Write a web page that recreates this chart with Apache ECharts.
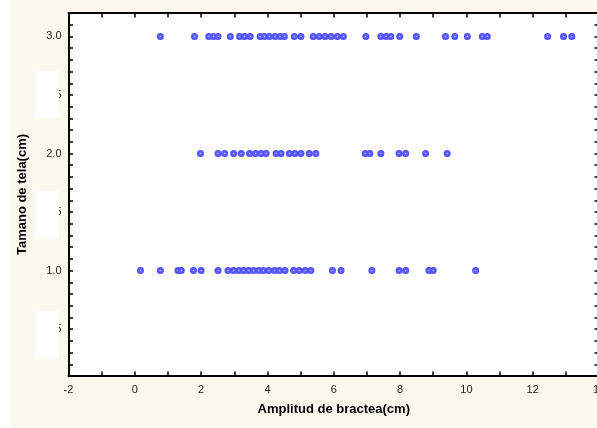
<!DOCTYPE html>
<html><head><meta charset="utf-8">
<script src="https://cdn.jsdelivr.net/npm/echarts@6/dist/echarts.min.js"></script>
<style>html,body{margin:0;padding:0;background:#fff}#c{width:597px;height:428px}</style>
</head><body><div id="c"></div>
<script>
const xTela3 = [0.77,1.80,2.23,2.37,2.51,2.88,3.16,3.31,3.48,3.78,3.91,4.06,4.23,4.38,4.51,4.81,5.01,5.38,5.56,5.74,5.92,6.11,6.29,6.97,7.42,7.58,7.72,7.99,8.49,9.37,9.65,10.03,10.48,10.63,12.45,12.93,13.18];
const xTela2 = [1.98,2.51,2.71,2.98,3.21,3.46,3.64,3.81,3.96,4.26,4.41,4.66,4.83,5.01,5.26,5.46,6.95,7.09,7.42,7.97,8.17,8.77,9.42];
const xTela1 = [0.17,0.77,1.30,1.40,1.77,2.00,2.51,2.81,2.98,3.14,3.28,3.43,3.58,3.74,3.88,4.04,4.21,4.36,4.53,4.79,4.96,5.14,5.31,5.96,6.22,7.15,7.97,8.17,8.87,9.00,10.28];
const telaLevels = [1.0, 2.0, 3.0];
const xName = 'Amplitud de bractea(cm)';
const yName = 'Tamano de tela(cm)';

const pts = [];
[xTela1, xTela2, xTela3].forEach((arr, i) => arr.forEach(v => pts.push([v, telaLevels[i]])));

const chart = echarts.init(document.getElementById('c'), null, {renderer: 'canvas'});
const font = 'Arial, "Liberation Sans", sans-serif';
const axisCommon = {
  axisLine: {show: true, onZero: false, lineStyle: {color: '#000', width: 2}},
  axisTick: {show: true, inside: true, length: 4.5, lineStyle: {color: '#000', width: 1.5}},
  splitLine: {show: false}
};
chart.setOption({
  backgroundColor: '#fff',
  animation: false,
  graphic: [
    {type: 'rect', z: -10, shape: {x: 11, y: 0, width: 586, height: 428}, style: {fill: '#fdf8ed'}},
    {type: 'rect', z: 100, shape: {x: 35, y: 71, width: 24, height: 47}, style: {fill: '#fff'}},
    {type: 'rect', z: 100, shape: {x: 35, y: 191, width: 24, height: 48}, style: {fill: '#fff'}},
    {type: 'rect', z: 100, shape: {x: 35, y: 311, width: 24, height: 48}, style: {fill: '#fff'}}
  ],
  grid: {left: 68.5, top: 13, right: -2, bottom: 52, show: true, backgroundColor: '#fff', borderWidth: 0,
    containLabel: false, outerBoundsMode: 'none'},
  xAxis: [
    Object.assign({}, axisCommon, {
      type: 'value', min: -2, max: 14, interval: 1, position: 'bottom',
      name: xName, nameLocation: 'middle', nameGap: 27,
      nameTextStyle: {fontFamily: font, fontSize: 13, fontWeight: 'bold', color: '#000'},
      axisLabel: {fontFamily: font, fontSize: 11, color: '#222', margin: 8,
        formatter: v => (Math.round(v) % 2 === 0 ? String(Math.round(v)) : '')}
    }),
    Object.assign({}, axisCommon, {
      type: 'value', min: -2, max: 14, interval: 1, position: 'top',
      axisLabel: {show: false}
    })
  ],
  yAxis: [
    Object.assign({}, axisCommon, {
      type: 'value', min: 0.1, max: 3.2, interval: 0.1, position: 'left',
      name: yName, nameLocation: 'middle', nameGap: 40, nameRotate: 90,
      nameTextStyle: {fontFamily: font, fontSize: 13, fontWeight: 'bold', color: '#000'},
      axisLabel: {fontFamily: font, fontSize: 11, color: '#222', margin: 7, showMinLabel: true, showMaxLabel: true,
        formatter: v => { const t = Math.round(v * 10); return t % 5 === 0 ? (t / 10).toFixed(1) : ''; }}
    }),
    Object.assign({}, axisCommon, {
      type: 'value', min: 0.1, max: 3.2, interval: 0.1, position: 'right',
      axisLabel: {show: false}
    })
  ],
  series: [{
    type: 'scatter',
    xAxisIndex: 0, yAxisIndex: 0,
    data: pts,
    symbol: 'circle',
    symbolSize: 7,
    itemStyle: {
      opacity: 1,
      color: {type: 'radial', x: 0.5, y: 0.5, r: 0.5,
        colorStops: [{offset: 0, color: '#c8c8ff'}, {offset: 0.3, color: '#6464ff'}, {offset: 1, color: '#4a4aff'}]}
    }
  }]
});
</script></body></html>
